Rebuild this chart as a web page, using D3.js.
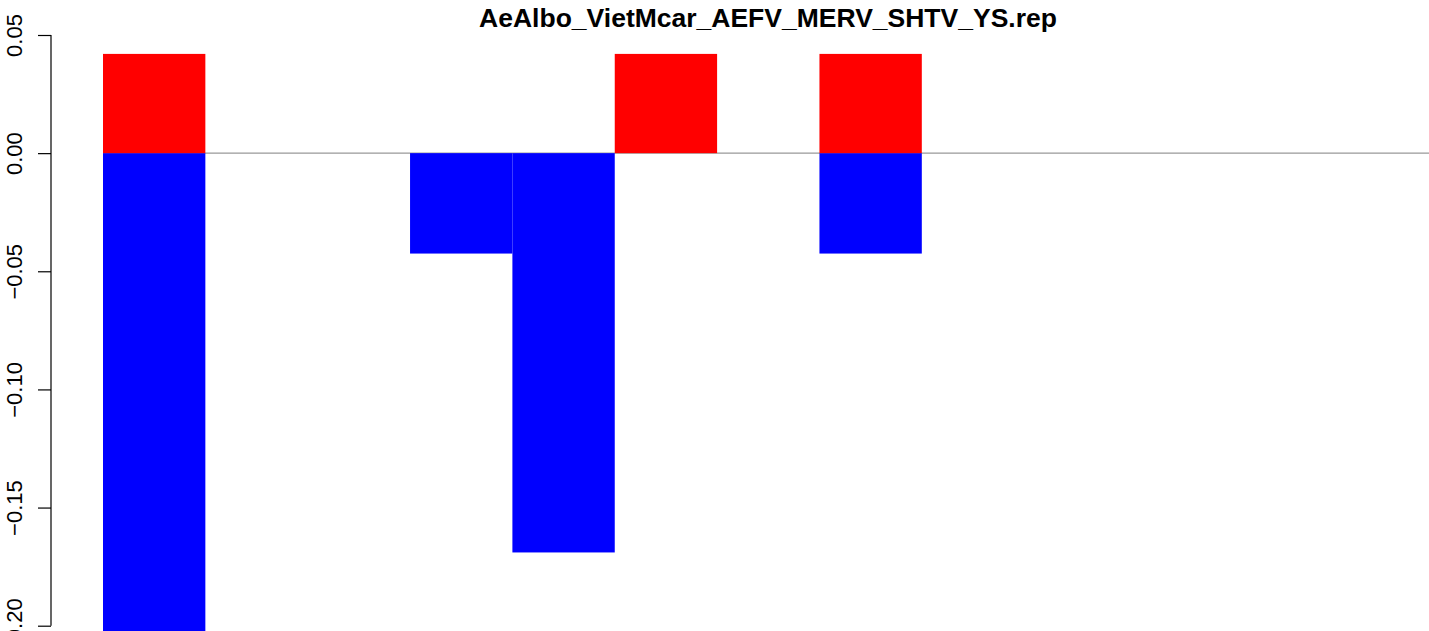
<!DOCTYPE html>
<html><head><meta charset="utf-8">
<script src="https://cdn.jsdelivr.net/npm/d3@7"></script>
<style>body{margin:0;background:#fff}svg{display:block}</style>
</head><body>
<script>
const title = "AeAlbo_VietMcar_AEFV_MERV_SHTV_YS.rep";
const categories = ["1","2","3","4","5","6","7","8","9","10","11","12","13"];
const positiveValues = [0.042, 0, 0, 0, 0, 0.042, 0, 0.042, 0, 0, 0, 0, 0];
const negativeValues = [-0.211, 0, 0, -0.0425, -0.169, 0, 0, -0.0425, 0, 0, 0, 0, 0];
const yTicks = [-0.20, -0.15, -0.10, -0.05, 0.00, 0.05];

const W = 1429, H = 631;
const svg = d3.select("body").append("svg").attr("width", W).attr("height", H);

const x = d3.scaleBand().domain(categories).range([103, 103 + 102.35 * categories.length]).padding(0);
const y = d3.scaleLinear().domain([-0.20, 0.05]).range([625.7, 35]);

// zero line
svg.append("line")
  .attr("x1", x(categories[0])).attr("x2", W + 10)
  .attr("y1", y(0)).attr("y2", y(0))
  .attr("stroke", "#999").attr("stroke-width", 1.2);

// negative bars
svg.selectAll("rect.neg").data(categories.map((c,i)=>({c, v:negativeValues[i]})).filter(d=>d.v<0))
  .enter().append("rect").attr("class","neg")
  .attr("x", d=>x(d.c)).attr("width", x.bandwidth())
  .attr("y", y(0)).attr("height", d=>y(d.v)-y(0))
  .attr("fill", "#0000ff");

// positive bars
svg.selectAll("rect.pos").data(categories.map((c,i)=>({c, v:positiveValues[i]})).filter(d=>d.v>0))
  .enter().append("rect").attr("class","pos")
  .attr("x", d=>x(d.c)).attr("width", x.bandwidth())
  .attr("y", d=>y(d.v)).attr("height", d=>y(0)-y(d.v))
  .attr("fill", "#ff0000");

// y axis
const fmt = v => (v < 0 ? "\u2212" : "") + Math.abs(v).toFixed(2);
const axis = svg.append("g").attr("transform", "translate(51,0)")
  .call(d3.axisLeft(y).tickValues(yTicks).tickSize(13).tickPadding(0).tickFormat(fmt));
axis.select(".domain").attr("stroke", "#000").attr("stroke-width", 1.2).attr("d", `M0,${y(-0.20)}V${y(0.05)}`);
axis.selectAll(".tick line").attr("stroke", "#000").attr("stroke-width", 1.2);
axis.selectAll(".tick text")
  .attr("font-family", "Liberation Sans, Arial, Helvetica, sans-serif")
  .attr("font-size", 22).attr("fill", "#000")
  .attr("text-anchor", "middle")
  .attr("transform", "translate(-29,0) rotate(-90)")
  .attr("x", 0).attr("dy", 0);

// title
svg.append("text")
  .attr("x", 768).attr("y", 27)
  .attr("text-anchor", "middle")
  .attr("font-family", "Liberation Sans, Arial, Helvetica, sans-serif")
  .attr("font-weight", "bold").attr("font-size", 26.5)
  .attr("fill", "#000")
  .text(title);
</script>
</body></html>
